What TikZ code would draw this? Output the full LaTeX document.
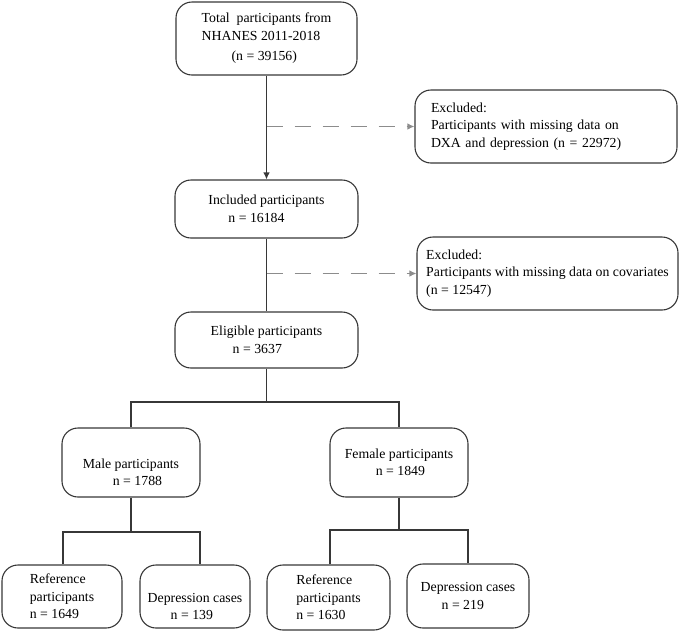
\documentclass[tikz,border=0pt]{standalone}
\usepackage{fontspec}
\setmainfont{Liberation Serif}
\usetikzlibrary{arrows.meta}
\definecolor{linec}{RGB}{55,55,55}
\definecolor{dashc}{RGB}{140,140,140}
\begin{document}
\begin{tikzpicture}[x=1pt,y=-1pt,
  box/.style={draw=linec, line width=1.1pt, rounded corners=16pt, inner sep=0pt,
    align=left, font=\fontsize{13.8}{17.5}\selectfont, text=black},
  conn/.style={draw=linec, line width=1.1pt},
  arr/.style={conn, -{Latex[length=7pt,width=6.5pt]}},
  darr/.style={draw=dashc, line width=1.1pt, dash pattern=on 16pt off 12pt,
    -{Latex[length=7pt,width=6.5pt]}}]
\useasboundingbox (0,0) rectangle (685,630);
\node[box, minimum width=181pt, minimum height=73pt] (top) at (266.5,38.5)
  {Total\ \ participants from\\NHANES 2011-2018\\[3pt]\hspace*{30pt}(n = 39156)};
\node[box, minimum width=262pt, minimum height=73pt, text width=230pt] (exc1) at (546,126.5)
  {Excluded:\\Participants with missing data on\\DXA and depression (n = 22972)};
\node[box, minimum width=183pt, minimum height=58pt] (inc) at (266.5,209)
  {Included participants\\\hspace*{20pt}n = 16184};
\node[box, minimum width=261pt, minimum height=73pt] (exc2) at (547.5,273.5)
  {Excluded:\\Participants with missing data on covariates\\(n = 12547)};
\node[box, minimum width=183pt, minimum height=56pt] (elig) at (266.5,340)
  {Eligible participants\\\hspace*{22pt}n = 3637};
\node[box, minimum width=138pt, minimum height=69pt] (male) at (131,462.5)
  {\rule{0pt}{29pt}Male participants\\\hspace*{30pt}n = 1788};
\node[box, minimum width=138pt, minimum height=69pt] (female) at (399,462.5)
  {Female participants\\\hspace*{31pt}n = 1849};
\node[box, minimum width=120pt, minimum height=63pt] (ref1) at (62,596.5)
  {Reference\\participants\\n = 1649};
\node[box, minimum width=110pt, minimum height=63pt] (dep1) at (195,596.5)
  {\rule{0pt}{29pt}Depression cases\\\hspace*{23pt}n = 139};
\node[box, minimum width=123pt, minimum height=65pt] (ref2) at (328.5,597.5)
  {Reference\\participants\\n = 1630};
\node[box, minimum width=122pt, minimum height=64pt] (dep2) at (468,596)
  {Depression cases\\\hspace*{21pt}n = 219};
\coordinate (d1) at (top.south |- exc1.west);
\coordinate (d2) at (inc.south |- exc2.west);
\coordinate (s1) at (266.5,402);
\coordinate (s2) at (131,532);
\coordinate (s3) at (399,530);
\draw[arr] (top.south) -- (inc.north);
\draw[darr] (d1) -- (exc1.west);
\draw[conn] (inc.south) -- (elig.north);
\draw[darr] (d2) -- (exc2.west);
\draw[conn] (elig.south) -- (s1);
\draw[conn] (male.north) |- (s1) -| (female.north);
\draw[conn] (male.south) -- (s2);
\draw[conn] ([xshift=1pt]ref1.north) |- (s2) -| ([xshift=5pt]dep1.north);
\draw[conn] (female.south) -- (s3);
\draw[conn] ([xshift=1.5pt]ref2.north) |- (s3) -| (dep2.north);
\end{tikzpicture}
\end{document}
